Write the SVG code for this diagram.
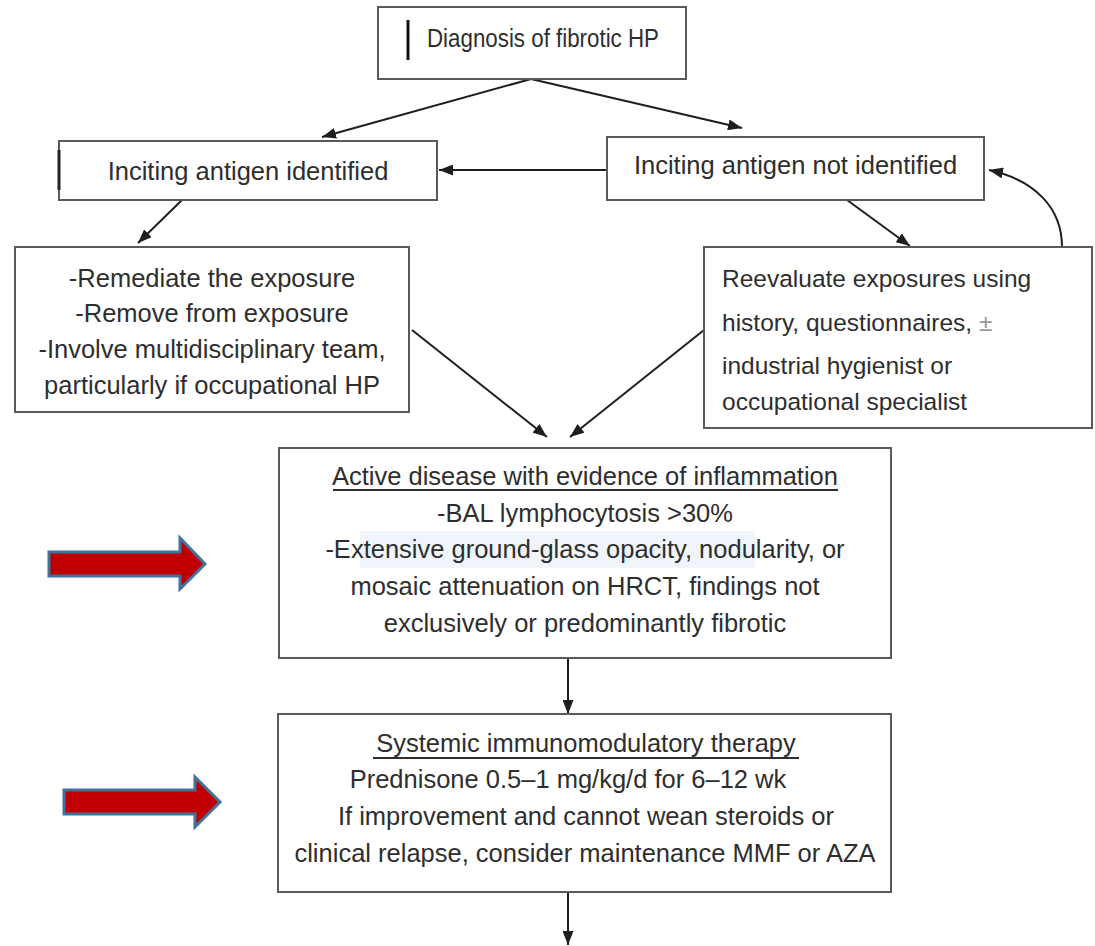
<svg xmlns="http://www.w3.org/2000/svg" width="1095" height="946" viewBox="0 0 1095 946">
  <style>
    .box { fill: #ffffff; stroke: #5a5a5a; stroke-width: 2; }
    .t { font-family: "Liberation Sans", Arial, sans-serif; font-size: 25.5px; fill: #2e2e2e; }
    .s { font-size: 24.5px; }
    .c { text-anchor: middle; }
    .edge { fill: none; stroke: #1e1e1e; stroke-width: 2; marker-end: url(#head); }
    .ul { stroke: #2e2e2e; stroke-width: 2; }
    .big { fill: #c00000; stroke: #41719c; stroke-width: 3; stroke-linejoin: miter; }
  </style>
  <defs>
    <marker id="head" viewBox="0 0 14 11" refX="14" refY="5.5" markerWidth="14" markerHeight="11" markerUnits="userSpaceOnUse" orient="auto">
      <path d="M0,0 L14,5.5 L0,11 Z" fill="#1e1e1e"/>
    </marker>
  </defs>

  <rect width="1095" height="946" fill="#ffffff"/>

  <g id="connectors">
    <path class="edge" d="M531,79 L322,137"/>
    <path class="edge" d="M531,79 L742,128"/>
    <path class="edge" d="M607,170 L439,170"/>
    <path class="edge" d="M182,200 L138,243"/>
    <path class="edge" d="M847,200 L910,246"/>
    <path class="edge" d="M1062,247 C1062,208 1035,180 989,170"/>
    <path class="edge" d="M412,330 L547,437"/>
    <path class="edge" d="M704,330 L570,437"/>
    <path class="edge" d="M568,658 L568,714"/>
    <path class="edge" d="M568,892 L568,945"/>
  </g>

  <g id="diagnosis">
    <rect class="box" x="378" y="7" width="308" height="72"/>
    <line x1="408" y1="20" x2="408" y2="60" stroke="#111" stroke-width="3"/>
    <text class="t" x="427" y="47" textLength="232" lengthAdjust="spacingAndGlyphs">Diagnosis of fibrotic HP</text>
  </g>

  <g id="antigen-identified">
    <rect class="box" x="59" y="141" width="378" height="59"/>
    <line x1="59" y1="150" x2="59" y2="190" stroke="#222" stroke-width="3"/>
    <text class="t c" x="248" y="180">Inciting antigen identified</text>
  </g>

  <g id="antigen-not-identified">
    <rect class="box" x="607" y="137" width="377" height="63"/>
    <text class="t c" x="795.5" y="174">Inciting antigen not identified</text>
  </g>

  <g id="remove-exposure">
    <rect class="box" x="15" y="247" width="394" height="165"/>
    <text class="t c" x="212" y="287">-Remediate the exposure</text>
    <text class="t c" x="212" y="322">-Remove from exposure</text>
    <text class="t c" x="212" y="358">-Involve multidisciplinary team,</text>
    <text class="t c" x="212" y="394">particularly if occupational HP</text>
  </g>

  <g id="reevaluate">
    <rect class="box" x="704" y="247" width="388" height="181"/>
    <text class="t s" x="722" y="287">Reevaluate exposures using</text>
    <text class="t s" x="722" y="331">history, questionnaires, <tspan fill="#9a9a9a">±</tspan></text>
    <text class="t s" x="722" y="374">industrial hygienist or</text>
    <text class="t s" x="722" y="410">occupational specialist</text>
  </g>

  <g id="active-disease">
    <rect class="box" x="279" y="448" width="612" height="210"/>
    <rect x="360" y="531" width="395" height="37" fill="#e9f1fa" opacity="0.7"/>
    <text class="t c" x="585" y="485">Active disease with evidence of inflammation</text>
    <line class="ul" x1="333" y1="490" x2="838" y2="490"/>
    <text class="t c" x="585" y="522">-BAL lymphocytosis &gt;30%</text>
    <text class="t c" x="585" y="558">-Extensive ground-glass opacity, nodularity, or</text>
    <text class="t c" x="585" y="595">mosaic attenuation on HRCT, findings not</text>
    <text class="t c" x="585" y="632">exclusively or predominantly fibrotic</text>
  </g>

  <g id="immunomodulatory">
    <rect class="box" x="278" y="714" width="613" height="178"/>
    <text class="t c" x="586" y="752">Systemic immunomodulatory therapy</text>
    <line class="ul" x1="373" y1="758" x2="799" y2="758"/>
    <text class="t c" x="568" y="788">Prednisone 0.5–1 mg/kg/d for 6–12 wk</text>
    <text class="t c" x="586" y="825">If improvement and cannot wean steroids or</text>
    <text class="t c" x="585" y="862">clinical relapse, consider maintenance MMF or AZA</text>
  </g>

  <g id="pointer-1">
    <path class="big" d="M49,552 L180,552 L180,538 L205,564 L180,589 L180,576 L49,576 Z"/>
  </g>

  <g id="pointer-2">
    <path class="big" d="M64,790 L195,790 L195,777 L220,802 L195,827 L195,814 L64,814 Z"/>
  </g>
</svg>
